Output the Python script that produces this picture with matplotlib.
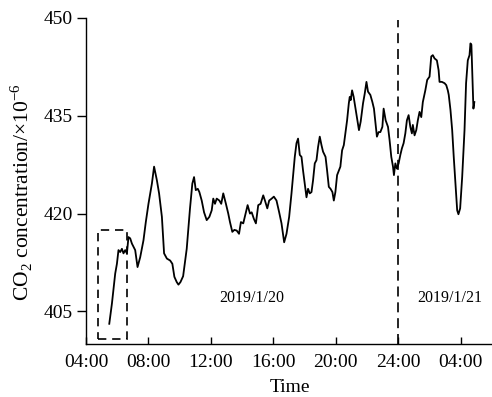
import matplotlib
matplotlib.use("Agg")
import matplotlib.pyplot as plt
from matplotlib.patches import Rectangle

plt.rcParams["font.family"] = ["Liberation Serif", "DejaVu Serif"]
plt.rcParams["mathtext.fontset"] = "custom"
plt.rcParams["mathtext.rm"] = "Liberation Serif"

# Hours since midnight of 2019/1/20 (values above 24 belong to 2019/1/21)
hours = [5.49, 5.66, 5.87, 5.98, 6.08, 6.19, 6.30, 6.40, 6.51, 6.62, 6.72, 6.83,
         6.94, 7.15, 7.30, 7.47, 7.68, 7.83, 8.00, 8.22, 8.36, 8.54, 8.68, 8.86,
         9.00, 9.18, 9.39, 9.53, 9.66, 9.81, 9.92, 10.05, 10.22, 10.45, 10.66,
         10.81, 10.92, 11.03, 11.16, 11.26, 11.41, 11.56, 11.73, 11.90, 12.05,
         12.15, 12.26, 12.37, 12.54, 12.66, 12.79, 12.96, 13.11, 13.22, 13.37,
         13.50, 13.65, 13.80, 13.92, 14.07, 14.22, 14.35, 14.50, 14.61, 14.75,
         14.88, 15.03, 15.18, 15.35, 15.46, 15.61, 15.73, 15.89, 16.03, 16.20,
         16.37, 16.52, 16.69, 16.84, 17.01, 17.16, 17.27, 17.37, 17.48, 17.58,
         17.69, 17.80, 17.90, 18.01, 18.12, 18.22, 18.33, 18.44, 18.54, 18.65,
         18.76, 18.86, 18.97, 19.08, 19.18, 19.34, 19.44, 19.55, 19.66, 19.78,
         19.87, 19.97, 20.08, 20.19, 20.29, 20.40, 20.51, 20.61, 20.72, 20.83,
         20.89, 20.95, 21.04, 21.14, 21.27, 21.38, 21.48, 21.59, 21.74, 21.85,
         21.96, 22.06, 22.21, 22.34, 22.44, 22.55, 22.63, 22.74, 22.85, 22.98,
         23.06, 23.19, 23.34, 23.44, 23.55, 23.66, 23.72, 23.81, 23.91, 24.02,
         24.13, 24.23, 24.34, 24.45, 24.55, 24.66, 24.77, 24.87, 24.93, 25.04,
         25.15, 25.25, 25.36, 25.47, 25.57, 25.73, 25.85, 26.00, 26.11, 26.21,
         26.32, 26.47, 26.58, 26.64, 26.79, 26.96, 27.07, 27.17, 27.23, 27.34,
         27.45, 27.55, 27.66, 27.77, 27.85, 27.96, 28.09, 28.24, 28.34, 28.45,
         28.56, 28.62, 28.68, 28.77, 28.81, 28.87]

co2 = [403.1, 406.2, 410.8, 412.3, 414.4, 414.1, 414.6, 413.9, 414.4, 413.9, 416.4, 416.2,
       415.4, 414.4, 411.8, 413.3, 415.9, 418.7, 421.5, 424.6, 427.2, 425.1, 423.1, 419.5,
       413.9, 413.1, 412.8, 412.3, 410.3, 409.5, 409.1, 409.5, 410.4, 414.6, 420.8,
       424.6, 425.6, 423.6, 423.8, 423.3, 422.0, 420.2, 419.0, 419.5, 420.5,
       422.3, 421.5, 422.3, 422.0, 421.5, 423.1, 421.5, 420.0, 418.7, 417.2,
       417.5, 417.4, 416.9, 418.7, 418.5, 420.0, 421.3, 420.0, 420.2, 419.2,
       418.5, 421.3, 421.5, 422.8, 422.0, 420.8, 422.0, 422.3, 422.6, 422.0,
       420.2, 418.5, 415.6, 416.9, 419.5, 423.1, 426.1, 428.7, 430.8, 431.5,
       429.0, 428.7, 426.6, 424.6, 422.5, 423.8, 423.1, 423.3, 425.1, 427.7,
       428.2, 430.2, 431.8, 430.5, 429.5, 428.7, 426.6, 424.1, 423.8, 423.3,
       422.0, 423.3, 425.9, 426.6, 427.2, 429.7, 430.5, 432.3, 434.3, 436.9,
       437.9, 437.4, 438.9, 437.9, 435.9, 434.3, 432.8, 434.1, 436.9, 438.4,
       440.2, 438.7, 438.2, 437.1, 436.1, 433.6, 431.8, 432.5, 432.5, 433.3,
       436.1, 434.3, 433.3, 431.3, 428.7, 427.2, 425.9, 427.7, 426.9, 427.7,
       429.0, 430.0, 430.8, 432.3, 434.3, 435.1, 433.3, 432.3, 433.6, 432.0,
       432.8, 434.3, 435.6, 434.8, 437.1, 438.9, 440.5, 441.0, 444.1, 444.3,
       443.8, 443.5, 442.0, 440.2, 440.2, 440.0, 439.7, 438.9, 438.2, 435.9,
       432.8, 428.7, 424.6, 420.5, 419.9, 420.8, 425.6, 432.8, 440.0, 443.5,
       444.3, 446.1, 445.9, 438.9, 436.1, 437.1]

tick_hours = [4, 8, 12, 16, 20, 24, 28]
tick_labels = ["04:00", "08:00", "12:00", "16:00", "20:00", "24:00", "04:00"]
y_ticks = [405, 420, 435, 450]

day_break = 24
box_x = [4.74, 6.62]
box_y = [400.8, 417.5]
day_labels = ["2019/1/20", "2019/1/21"]
day_label_x = [14.63, 27.28]
day_label_y = 407.0

fig = plt.figure(figsize=(4.92, 3.97), dpi=100)
ax = fig.add_axes([0.1748, 0.1335, 0.8252, 0.8212])

ax.plot(hours, co2, color="black", lw=1.3)
ax.axvline(day_break, ymin=0, ymax=0.995, color="black", lw=1.2,
           linestyle=(0, (6, 3.5)))
ax.add_patch(Rectangle((box_x[0], box_y[0]), box_x[1] - box_x[0], box_y[1] - box_y[0],
                       fill=False, edgecolor="black", lw=1.2, linestyle=(0, (5, 3.5))))

for label, x in zip(day_labels, day_label_x):
    ax.text(x, day_label_y, label, ha="center", va="center", fontsize=11.5)

ax.set_xlim(4, 30)
ax.set_ylim(400, 450)
ax.set_xticks(tick_hours)
ax.set_xticklabels(tick_labels, fontsize=14)
ax.set_yticks(y_ticks)
ax.set_yticklabels([str(v) for v in y_ticks], fontsize=14)
ax.tick_params(axis="x", direction="in", length=5, width=1, pad=7)
ax.tick_params(axis="y", direction="out", length=6.5, width=1, pad=3)

for side in ("top", "right"):
    ax.spines[side].set_visible(False)
for side in ("left", "bottom"):
    ax.spines[side].set_linewidth(1.0)

ax.set_xlabel("Time", fontsize=14)
ax.xaxis.set_label_coords(0.502, -0.107)
ax.set_ylabel(r"CO$_\mathregular{2}$ concentration/×10$^\mathregular{-6}$", fontsize=15.5)
ax.yaxis.set_label_coords(-0.125, 0.466)

fig.savefig("out.png", dpi=100)
